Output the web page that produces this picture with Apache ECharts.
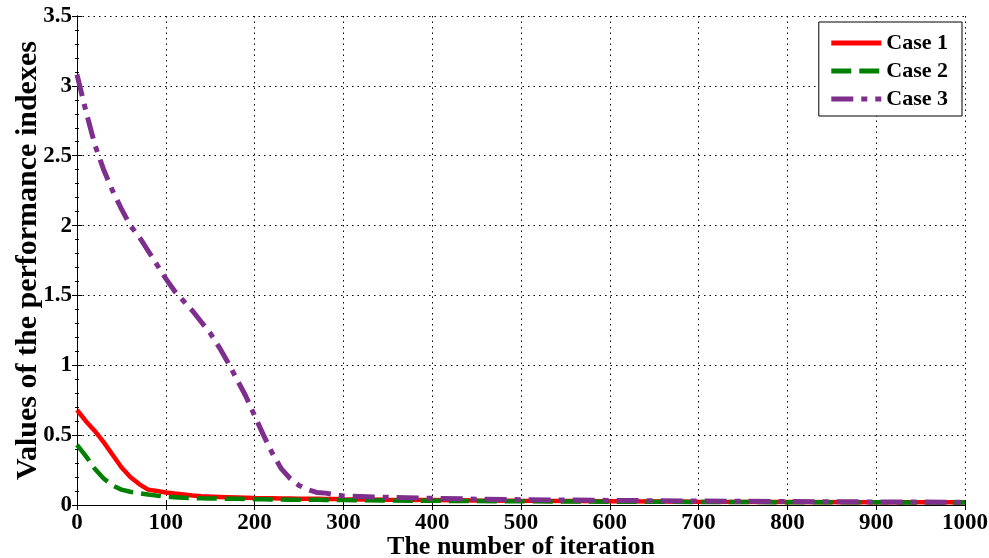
<!DOCTYPE html>
<html>
<head>
<meta charset="utf-8">
<script src="https://cdn.jsdelivr.net/npm/echarts@6/dist/echarts.min.js"></script>
<style>
  html, body { margin: 0; padding: 0; background: #fff; }
  #chart { width: 989px; height: 558px; }
</style>
</head>
<body>
<div id="chart"></div>
<script>
// iteration points shared by all three cases
const iterations = [0, 10, 20, 30, 40, 50, 60, 70, 80, 90, 100, 110, 120, 130, 140, 150, 160, 170, 180, 190,
  200, 210, 220, 230, 240, 250, 260, 270, 280, 290, 300, 350, 400, 450, 500, 600, 700, 800, 900, 1000]

const case1 = [0.68, 0.60, 0.53, 0.45, 0.36, 0.27, 0.20, 0.15, 0.11, 0.10, 0.09, 0.082, 0.075, 0.068, 0.063, 0.060, 0.058, 0.056, 0.054, 0.052,
  0.050, 0.049, 0.048, 0.047, 0.046, 0.045, 0.044, 0.044, 0.043, 0.043, 0.042, 0.038, 0.035, 0.032, 0.030, 0.027, 0.024, 0.022, 0.020, 0.019]

const case2 = [0.43, 0.35, 0.26, 0.19, 0.14, 0.11, 0.095, 0.085, 0.075, 0.067, 0.060, 0.056, 0.052, 0.050, 0.048, 0.047, 0.046, 0.045, 0.044, 0.043,
  0.042, 0.041, 0.040, 0.039, 0.038, 0.038, 0.037, 0.037, 0.036, 0.036, 0.035, 0.032, 0.030, 0.028, 0.027, 0.024, 0.022, 0.020, 0.019, 0.018]

const case3 = [3.08, 2.82, 2.58, 2.40, 2.25, 2.12, 2.00, 1.92, 1.82, 1.72, 1.62, 1.53, 1.46, 1.39, 1.31, 1.23, 1.13, 1.02, 0.90, 0.78,
  0.64, 0.50, 0.37, 0.26, 0.19, 0.14, 0.11, 0.09, 0.085, 0.075, 0.065, 0.055, 0.048, 0.042, 0.038, 0.033, 0.028, 0.025, 0.022, 0.020]

const seriesNames = ['Case 1', 'Case 2', 'Case 3']

const pairs = (ys) => iterations.map((x, i) => [x, ys[i]])

const font = 'Liberation Serif'
const labelStyle = { fontFamily: font, fontWeight: 'bold', fontSize: 23, color: '#000' }

const myChart = echarts.init(document.getElementById('chart'))

const option = {
  animation: false,
  backgroundColor: '#fff',
  grid: { left: 77, right: 24, top: 16, bottom: 53, containLabel: false, outerBoundsMode: 'none' },
  legend: {
    data: seriesNames,
    orient: 'vertical',
    right: 27,
    top: 22,
    itemWidth: 50,
    itemHeight: 14,
    itemGap: 6,
    padding: [10, 14, 6, 10],
    borderColor: '#000',
    borderWidth: 1,
    borderRadius: 0,
    backgroundColor: '#fff',
    itemStyle: { opacity: 0 },
    lineStyle: { width: 5 },
    textStyle: { fontFamily: font, fontWeight: 'bold', fontSize: 22, color: '#000' }
  },
  xAxis: [{
    type: 'value',
    min: 0,
    max: 1000,
    interval: 100,
    name: 'The number of iteration',
    nameLocation: 'middle',
    nameGap: 29,
    nameMoveOverlap: false,
    nameTextStyle: { fontFamily: font, fontWeight: 'bold', fontSize: 26, color: '#000' },
    axisLine: { lineStyle: { color: '#000', width: 1 } },
    axisTick: { inside: true, length: 5, lineStyle: { color: '#000' } },
    axisLabel: Object.assign({ margin: 7, formatter: (v) => String(v) }, labelStyle),
    splitLine: { show: true, lineStyle: { color: '#000', type: [1.5, 4], width: 1 } }
  }, {
    type: 'value',
    position: 'top',
    min: 0,
    max: 1000,
    interval: 100,
    axisLine: { show: true, lineStyle: { color: '#000' } },
    axisTick: { inside: true, length: 5, lineStyle: { color: '#000' } },
    axisLabel: { show: false },
    splitLine: { show: false }
  }],
  yAxis: [{
    type: 'value',
    min: 0,
    max: 3.5,
    interval: 0.5,
    name: 'Values of the performance indexes',
    nameLocation: 'middle',
    nameGap: 34,
    nameMoveOverlap: false,
    nameTextStyle: { fontFamily: font, fontWeight: 'bold', fontSize: 30, color: '#000' },
    axisLine: { show: true, lineStyle: { color: '#000', width: 1 } },
    axisTick: { show: true, inside: true, length: 5, lineStyle: { color: '#000' } },
    minorTick: { show: true, splitNumber: 5, length: 2, lineStyle: { color: '#000' } },
    axisLabel: Object.assign({ margin: 5 }, labelStyle),
    splitLine: { show: true, lineStyle: { color: '#000', type: [1.5, 4], width: 1 } }
  }, {
    type: 'value',
    position: 'right',
    min: 0,
    max: 3.5,
    interval: 0.5,
    axisLine: { show: true, lineStyle: { color: '#000' } },
    axisTick: { show: true, inside: true, length: 5, lineStyle: { color: '#000' } },
    minorTick: { show: true, splitNumber: 5, length: 2, lineStyle: { color: '#000' } },
    axisLabel: { show: false },
    splitLine: { show: false }
  }],
  series: [
    {
      name: 'Case 1',
      type: 'line',
      data: pairs(case1),
      showSymbol: false,
      symbol: 'none',
      z: 3,
      lineStyle: { color: '#ff0000', width: 4.5, type: 'solid' },
      itemStyle: { color: '#ff0000' }
    },
    {
      name: 'Case 2',
      type: 'line',
      data: pairs(case2),
      showSymbol: false,
      symbol: 'none',
      z: 4,
      lineStyle: { color: '#008000', width: 4.5, type: [20, 8] },
      itemStyle: { color: '#008000' }
    },
    {
      name: 'Case 3',
      type: 'line',
      data: pairs(case3),
      showSymbol: false,
      symbol: 'none',
      z: 5,
      lineStyle: { color: '#7e2f8e', width: 5, type: [22, 8, 6, 8] },
      itemStyle: { color: '#7e2f8e' }
    }
  ]
}

myChart.setOption(option)
</script>
</body>
</html>
